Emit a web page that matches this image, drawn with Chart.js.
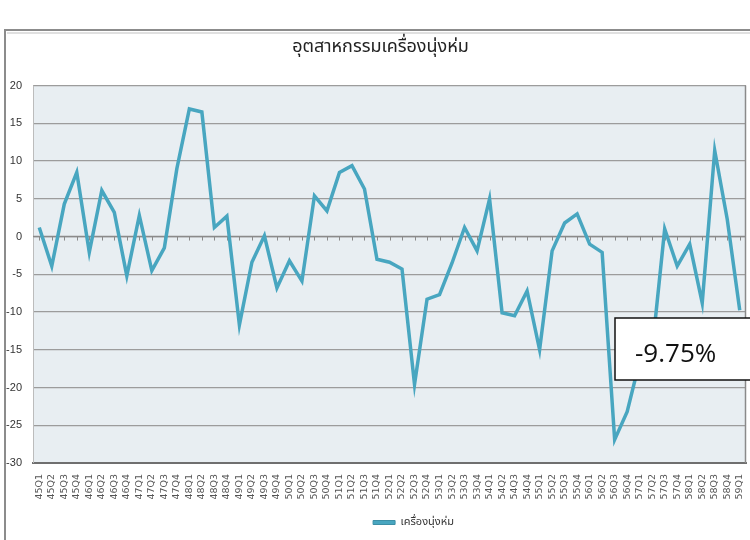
<!DOCTYPE html>
<html>
<head>
<meta charset="utf-8">
<script src="https://cdn.jsdelivr.net/npm/chart.js@4/dist/chart.umd.min.js"></script>
<style>
  html, body { margin: 0; padding: 0; background: #ffffff; }
  #wrap { width: 750px; height: 540px; position: relative; }
</style>
</head>
<body>
<div id="wrap"><canvas id="c" width="750" height="540"></canvas></div>
<script>
// ---- data ----
const titleText = 'อุตสาหกรรมเครื่องนุ่งห่ม';
const seriesName = 'เครื่องนุ่งห่ม';
const calloutText = '-9.75%';
const years = [45,46,47,48,49,50,51,52,53,54,55,56,57,58,59];
const quarters = ['Q1','Q2','Q3','Q4'];
const categories = [];
years.forEach(y => quarters.forEach(q => { if (!(y === 59 && q !== 'Q1')) categories.push(y + q); }));
const values = [
  1.2, -3.9, 4.3, 8.5,
  -2.1, 6.1, 3.2, -5.2,
  2.8, -4.5, -1.5, 9.0,
  16.9, 16.5, 1.2, 2.7,
  -11.7, -3.4, 0.1, -6.8,
  -3.2, -5.9, 5.4, 3.4,
  8.5, 9.4, 6.3, -3.0,
  -3.4, -4.3, -19.6, -8.3,
  -7.7, -3.5, 1.2, -1.9,
  5.0, -10.1, -10.5, -7.2,
  -15.0, -1.9, 1.8, 3.0,
  -1.0, -2.1, -26.9, -23.2,
  -16.5, -15.0, 1.0, -3.9,
  -1.0, -8.8, 11.4, 2.3,
  -9.75
];
const yTicks = [-30, -25, -20, -15, -10, -5, 0, 5, 10, 15, 20];

const LINE_COLOR = '#48a6c0';
const THAI_FONT = "'Noto Sans Thai', 'Noto Sans', Tahoma, sans-serif";

const decorPlugin = {
  id: 'decor',
  afterLayout(chart) {
    const lg = chart.legend;
    if (lg) { lg.left += 24; lg.right += 24; }
    const tt = chart.titleBlock;
    if (tt) { tt.left -= 9; tt.right -= 9; }
  },
  beforeDraw(chart) {
    const ctx = chart.ctx, a = chart.chartArea;
    ctx.save();
    // outer frame
    ctx.strokeStyle = '#8c8c8c';
    ctx.lineWidth = 2;
    ctx.strokeRect(5, 30, 770, 530);
    ctx.strokeStyle = 'rgba(0,0,0,0.12)';
    ctx.lineWidth = 2;
    ctx.beginPath(); ctx.moveTo(7, 33); ctx.lineTo(760, 33); ctx.stroke();
    // plot background
    ctx.fillStyle = '#e8eef2';
    ctx.fillRect(a.left, a.top, a.right - a.left, a.bottom - a.top);
    ctx.restore();
  },
  beforeDatasetsDraw(chart) {
    const ctx = chart.ctx, a = chart.chartArea;
    const xs = chart.scales.x, ys = chart.scales.y;
    const y0 = ys.getPixelForValue(0);
    ctx.save();
    ctx.strokeStyle = '#bcbcbc';
    ctx.lineWidth = 1;
    ctx.beginPath();
    ctx.moveTo(a.left + 0.5, a.top); ctx.lineTo(a.left + 0.5, a.bottom);
    ctx.stroke();
    ctx.strokeStyle = '#8a8a8a';
    ctx.lineWidth = 1.5;
    ctx.beginPath();
    ctx.moveTo(a.right - 0.5, a.top); ctx.lineTo(a.right - 0.5, a.bottom);
    ctx.stroke();
    // zero axis with tick marks
    ctx.strokeStyle = '#8a8a8a';
    ctx.lineWidth = 1.5;
    ctx.beginPath();
    ctx.moveTo(a.left, y0); ctx.lineTo(a.right, y0);
    ctx.stroke();
    ctx.lineWidth = 1;
    ctx.beginPath();
    for (let i = 0; i < categories.length; i++) {
      const x = Math.round(xs.getPixelForValue(i)) + 0.5;
      ctx.moveTo(x, y0); ctx.lineTo(x, y0 + 4);
    }
    ctx.stroke();
    ctx.restore();
  },
  afterDraw(chart) {
    const ctx = chart.ctx, a = chart.chartArea;
    const bx = a.right - 131, by = 318, bw = 150, bh = 62;
    ctx.save();
    ctx.fillStyle = '#ffffff';
    ctx.fillRect(bx, by, bw, bh);
    ctx.strokeStyle = '#111';
    ctx.lineWidth = 1.5;
    ctx.strokeRect(bx, by, bw, bh);
    ctx.fillStyle = '#111';
    ctx.font = "26px 'Open Sans', sans-serif";
    ctx.textBaseline = 'alphabetic';
    ctx.textAlign = 'left';
    ctx.fillText(calloutText, bx + 20, by + 44);
    ctx.restore();
  }
};

new Chart(document.getElementById('c'), {
  type: 'line',
  data: {
    labels: categories,
    datasets: [{
      label: seriesName,
      data: values,
      borderColor: LINE_COLOR,
      backgroundColor: LINE_COLOR,
      borderWidth: 3.5,
      pointRadius: 0,
      pointHoverRadius: 0,
      tension: 0,
      fill: false
    }]
  },
  options: {
    responsive: false,
    animation: false,
    events: [],
    layout: { padding: { left: 0, right: 4, top: 0, bottom: 2 } },
    plugins: {
      title: {
        display: true,
        text: titleText,
        fullSize: false,
        color: '#222',
        font: { family: THAI_FONT, size: 18, weight: 'normal' },
        padding: { top: 38, bottom: 26 }
      },
      legend: {
        display: true,
        position: 'bottom',
        fullSize: false,
        labels: {
          color: '#333',
          font: { family: THAI_FONT, size: 11 },
          boxWidth: 22,
          boxHeight: 4,
          padding: 8,
          generateLabels(chart) {
            const items = Chart.defaults.plugins.legend.labels.generateLabels(chart);
            items.forEach(it => { it.lineWidth = 1; it.fillStyle = LINE_COLOR; it.strokeStyle = '#3d8fa6'; });
            return items;
          }
        }
      },
      tooltip: { enabled: false }
    },
    scales: {
      x: {
        type: 'category',
        offset: true,
        grid: { display: false, drawTicks: false },
        border: { display: true, color: '#6f6f6f', width: 2 },
        ticks: {
          autoSkip: false,
          minRotation: 90,
          maxRotation: 90,
          padding: 11,
          color: '#555',
          font: { family: "'DejaVu Sans', sans-serif", size: 9.5 }
        },
        afterFit(s) { s.height = 46; s.paddingLeft = 0; s.paddingRight = 0; }
      },
      y: {
        min: -30,
        max: 20,
        afterBuildTicks(s) { s.ticks = yTicks.map(v => ({ value: v })); },
        grid: { color: '#9c9c9c', lineWidth: 1.3, drawTicks: false },
        border: { display: false },
        ticks: {
          padding: 11,
          color: '#333',
          font: { family: "'Liberation Sans Narrow', 'Liberation Sans', sans-serif", size: 11 }
        },
        afterFit(s) { s.width = 33; }
      }
    }
  },
  plugins: [decorPlugin]
});
</script>
</body>
</html>
